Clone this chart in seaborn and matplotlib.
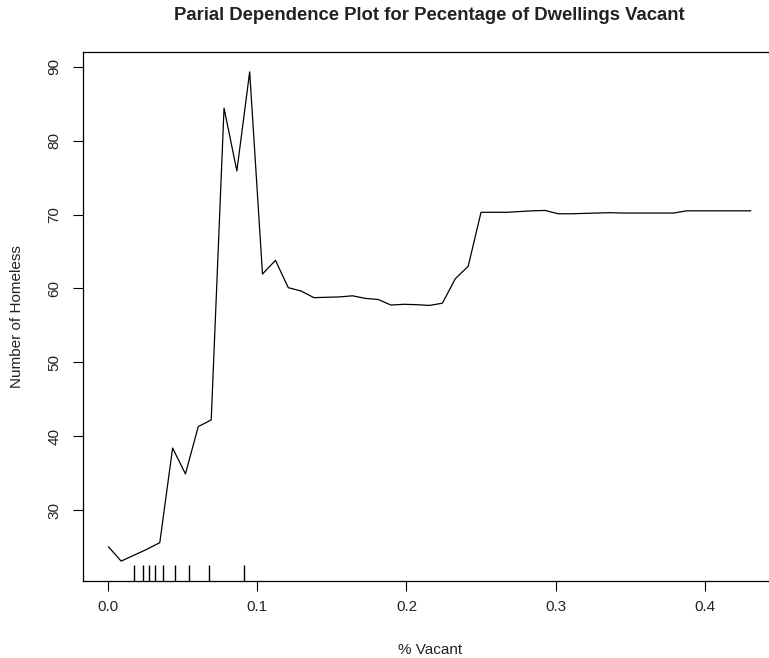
import pandas as pd
import matplotlib
matplotlib.use('Agg')
import matplotlib.pyplot as plt
import seaborn as sns

sns.set_style('ticks')
plt.rcParams['font.family'] = ['Liberation Sans', 'DejaVu Sans']

# --- partial dependence values ---
pct_vacant = [0.0, 0.0086, 0.0172, 0.0259, 0.0345, 0.0431, 0.0517, 0.0603, 0.0690, 0.0776,
              0.0862, 0.0948, 0.1034, 0.1121, 0.1207, 0.1293, 0.1379, 0.1465, 0.1552, 0.1638,
              0.1724, 0.1810, 0.1896, 0.1983, 0.2069, 0.2155, 0.2241, 0.2327, 0.2414, 0.2500,
              0.2586, 0.2672, 0.2758, 0.2845, 0.2931, 0.3017, 0.3103, 0.3189, 0.3276, 0.3362,
              0.3448, 0.3534, 0.3620, 0.3707, 0.3793, 0.3879, 0.3965, 0.4051, 0.4138, 0.4224,
              0.4310]
homeless = [25.05, 23.1, 23.9, 24.7, 25.6, 38.4, 34.9, 41.3, 42.2, 84.4,
            75.9, 89.3, 61.95, 63.8, 60.1, 59.65, 58.75, 58.8, 58.85, 59.0,
            58.65, 58.5, 57.75, 57.85, 57.8, 57.7, 58.0, 61.3, 63.0, 70.3,
            70.3, 70.3, 70.4, 70.5, 70.55, 70.1, 70.1, 70.15, 70.2, 70.25,
            70.2, 70.2, 70.2, 70.2, 70.2, 70.5, 70.5, 70.5, 70.5, 70.5,
            70.5]
# deciles of the predictor (rug marks)
deciles = [0.017, 0.0229, 0.0272, 0.0312, 0.0369, 0.0446, 0.0540, 0.0673, 0.0908]

x_ticks = [0.0, 0.1, 0.2, 0.3, 0.4]
y_ticks = [30, 40, 50, 60, 70, 80, 90]

df = pd.DataFrame({'pct_vacant': pct_vacant, 'homeless': homeless})

fig = plt.figure(figsize=(7.69, 6.58), dpi=100)
# right edge of the box runs just past the image, as in the original
ax = fig.add_axes([0.1075, 0.1175, 0.9022, 0.803])

sns.lineplot(ax=ax, data=df, x='pct_vacant', y='homeless', color='black', lw=0.9)
sns.rugplot(ax=ax, x=deciles, height=0.029, color='black', lw=0.9)

ax.set_xlim(-0.01724, 0.4482)
ax.set_ylim(20.45, 91.95)
ax.set_xticks(x_ticks)
ax.set_xticklabels(['0.0', '0.1', '0.2', '0.3', '0.4'])
ax.set_yticks(y_ticks)

for side in ['top', 'right', 'left', 'bottom']:
    ax.spines[side].set_visible(True)
    ax.spines[side].set_linewidth(0.9)
    ax.spines[side].set_color('black')

ax.tick_params(axis='both', length=7.2, width=0.8, labelsize=11, color='black',
               labelcolor='#222222', pad=7)
ax.tick_params(axis='y', labelrotation=90, pad=8)
for lab in ax.get_yticklabels():
    lab.set_va('center')

ax.set_xlabel('% Vacant', fontsize=11, color='#222222')
ax.xaxis.set_label_coords(0.5, -0.118)
ax.set_ylabel('Number of Homeless', fontsize=11, color='#222222')
ax.yaxis.set_label_coords(-0.0947, 0.5)
ax.yaxis.label.set_va('center')

fig.text(0.5586, 1 - 20 / 658, 'Parial Dependence Plot for Pecentage of Dwellings Vacant',
         ha='center', va='baseline', fontsize=13.3, fontweight='bold', color='#222222')

fig.savefig('out.png', dpi=100)
